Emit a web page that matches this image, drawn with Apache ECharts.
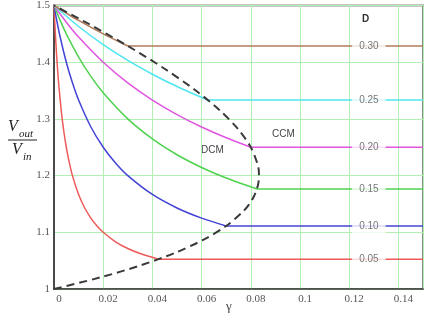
<!DOCTYPE html>
<html>
<head>
<meta charset="utf-8">
<script src="https://cdn.jsdelivr.net/npm/echarts@6/dist/echarts.min.js"></script>
<style>html,body{margin:0;padding:0;background:#fff;}#c{width:424px;height:320px;}</style>
</head>
<body>
<div id="c"></div>
<script>
// ---- data ----
const xTicks = [0, 0.02, 0.04, 0.06, 0.08, 0.1, 0.12, 0.14];
const yTicks = [1, 1.1, 1.2, 1.3, 1.4, 1.5];
const dLabels = ['0.05', '0.10', '0.15', '0.20', '0.25', '0.30'];
const ccmLevel = [1.0526, 1.1111, 1.1765, 1.25, 1.3333, 1.4286];
const ccmStart = [0.0425, 0.07, 0.0825, 0.08, 0.0625, 0.03];
const xEnd = 0.15;
const labelGamma = 0.128;

const dcm005 = [[0,1.5],[0.0005,1.4545],[0.001,1.4167],[0.0015,1.3846],[0.002,1.3571],[0.003,1.3125],[0.004,1.2778],[0.005,1.25],[0.006,1.2273],[0.0075,1.2],[0.01,1.1667],[0.0125,1.1429],[0.015,1.125],[0.0175,1.1111],[0.02,1.1],[0.025,1.0833],[0.03,1.0714],[0.035,1.0625],[0.0425,1.0526]];
const dcm010 = [[0,1.5],[0.001,1.4762],[0.0025,1.4444],[0.005,1.4],[0.0075,1.3636],[0.01,1.3333],[0.015,1.2857],[0.02,1.25],[0.025,1.2222],[0.03,1.2],[0.04,1.1667],[0.05,1.1429],[0.06,1.125],[0.07,1.1111]];
const dcm015 = [[0,1.5],[0.0025,1.4737],[0.005,1.45],[0.01,1.4091],[0.015,1.375],[0.02,1.3462],[0.03,1.3],[0.04,1.2647],[0.05,1.2368],[0.06,1.2143],[0.07,1.1957],[0.0825,1.1765]];
const dcm020 = [[0,1.5],[0.005,1.4706],[0.01,1.4444],[0.02,1.4],[0.03,1.3636],[0.04,1.3333],[0.05,1.3077],[0.06,1.2857],[0.07,1.2667],[0.08,1.25]];
const dcm025 = [[0,1.5],[0.01,1.463],[0.02,1.431],[0.03,1.4032],[0.04,1.3788],[0.05,1.3571],[0.0625,1.3333]];
const dcm030 = [[0,1.5],[0.01,1.4737],[0.02,1.45],[0.03,1.4286]];
const boundary = [[0,1],[0.0188,1.0204],[0.0352,1.0417],[0.0492,1.0638],[0.0608,1.087],[0.07,1.1111],[0.0768,1.1364],[0.0793,1.1494],[0.0812,1.1628],[0.0825,1.1765],[0.0832,1.1905],[0.0833,1.2048],[0.0828,1.2195],[0.08,1.25],[0.0748,1.2821],[0.0672,1.3158],[0.0572,1.3514],[0.0448,1.3889],[0.03,1.4286],[0.0128,1.4706],[0,1.5]];
const colors = ['#ee5a5a', '#4343d6', '#4fd24f', '#e055e0', '#4ee6f0', '#b07a5a'];
const dcmCurves = [dcm005, dcm010, dcm015, dcm020, dcm025, dcm030];

const series = [];
dcmCurves.forEach((d, i) => {
  series.push({type:'line', data:d, smooth:0.25, showSymbol:false, silent:true,
    lineStyle:{color:colors[i], width:1.5}, z:3});
  series.push({type:'line', data:[[ccmStart[i], ccmLevel[i]],[xEnd, ccmLevel[i]]], showSymbol:false, silent:true,
    lineStyle:{color:colors[i], width:1.5}, z:3});
});
series.push({type:'line', data:boundary, smooth:0.3, showSymbol:false, silent:true,
  lineStyle:{color:'#3a3a3a', width:2, type:[8,5]}, z:4});
series.push({type:'scatter', symbolSize:1, itemStyle:{color:'rgba(0,0,0,0)'}, z:6, silent:true,
  data: dLabels.map((t, i) => ({value:[labelGamma, ccmLevel[i]], name:t})),
  label:{show:true, position:'inside', formatter: p => p.name, color:'#555', fontFamily:'Liberation Sans', fontSize:10,
    backgroundColor:'#fff', padding:[2,7,2,7]}});

const chart = echarts.init(document.getElementById('c'), null, {renderer:'canvas'});
chart.setOption({
  animation:false,
  backgroundColor:'#fff',
  grid:{left:54, top:5, right:1, bottom:31, show:true, borderColor:'#8a8a8a', borderWidth:2},
  xAxis:{type:'value', min:0, max:xEnd, interval:0.02,
    axisLine:{lineStyle:{color:'#3c3c3c', width:1.5}}, axisTick:{show:false},
    axisLabel:{color:'#555', fontFamily:'Liberation Serif', fontSize:11, margin:5, padding:[0,0,0,10], showMaxLabel:false,
      formatter: v => xTicks.indexOf(Math.round(v*100)/100) >= 0 ? String(Math.round(v*100)/100) : ''},
    splitLine:{lineStyle:{color:'#b2efb2', width:1}}},
  yAxis:{type:'value', min:1, max:1.5, interval:0.1,
    axisLine:{show:true, lineStyle:{color:'#4a4a4a', width:2}}, axisTick:{show:false},
    axisLabel:{color:'#555', fontFamily:'Liberation Serif', fontSize:11, margin:4,
      formatter: v => { const r = Math.round(v*10)/10; return yTicks.indexOf(r) >= 0 ? String(r) : ''; }},
    splitLine:{lineStyle:{color:'#b2efb2', width:1}}},
  series: series,
  graphic:[
    {type:'text', left:362, top:14, style:{text:'D', fill:'#333', font:'bold 10px "Liberation Sans"'}},
    {type:'text', left:201, top:145, style:{text:'DCM', fill:'#444', font:'10px "Liberation Sans"'}},
    {type:'text', left:272, top:129, style:{text:'CCM', fill:'#444', font:'10px "Liberation Sans"'}},
    {type:'text', left:226, top:300, style:{text:'γ', fill:'#444', font:'13px "Liberation Serif"'}},
    {type:'text', left:8, top:119, style:{text:'V', fill:'#222', font:'italic 16px "Liberation Serif"'}},
    {type:'text', left:19, top:129, style:{text:'out', fill:'#222', font:'italic 11px "Liberation Serif"'}},
    {type:'line', shape:{x1:8, y1:140, x2:37, y2:140}, style:{stroke:'#222', lineWidth:1}},
    {type:'text', left:12, top:142, style:{text:'V', fill:'#222', font:'italic 16px "Liberation Serif"'}},
    {type:'text', left:23, top:152, style:{text:'in', fill:'#222', font:'italic 11px "Liberation Serif"'}}
  ]
});
</script>
</body>
</html>
